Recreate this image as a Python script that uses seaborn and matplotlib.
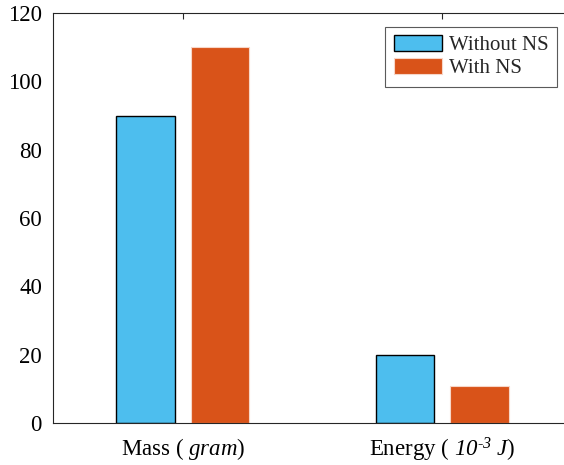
import numpy as np
import pandas as pd
import matplotlib
matplotlib.use('Agg')
import matplotlib.pyplot as plt
import seaborn as sns
from matplotlib.patches import Patch

# ===================== 数据 =====================
# \mathbf 映射为斜体，让数字也能斜体显示
categories = ['Mass ( $\\mathit{gram}$)',
              'Energy ( $\\mathbf{10}^{\\text{-}\\mathbf{3}}\\ \\mathit{J}$)']
without_ns = [90, 20]
with_ns = [110, 10.8]
series_names = ['Without NS', 'With NS']
colors = ['#4DBEEE', '#D95319']
y_ticks = [0, 20, 40, 60, 80, 100, 120]

df = pd.DataFrame({
    'cat': categories * 2,
    'value': without_ns + with_ns,
    'series': [series_names[0]] * 2 + [series_names[1]] * 2,
})

# ===================== 样式 =====================
sns.set_style('white')
plt.rcParams['font.family'] = ['Liberation Serif', 'DejaVu Serif']
plt.rcParams['mathtext.fontset'] = 'custom'
plt.rcParams['mathtext.rm'] = 'Liberation Serif'
plt.rcParams['mathtext.it'] = 'Liberation Serif:italic'
plt.rcParams['mathtext.bf'] = 'Liberation Serif:italic'
plt.rcParams['font.size'] = 16.5

fig = plt.figure(figsize=(5.64, 4.65), dpi=100)
ax = fig.add_axes([0.094, 0.0903, 0.920, 0.8817])

sns.barplot(data=df, x='cat', y='value', hue='series', hue_order=series_names,
            palette=colors, width=0.574, gap=0.21, saturation=1, legend=False, ax=ax)

# 边框颜色
for bar in ax.containers[0]:
    bar.set_edgecolor('black')
    bar.set_linewidth(1.0)
for bar in ax.containers[1]:
    bar.set_edgecolor('#f7d6c8')
    bar.set_linewidth(0.8)

ax.set_xlim(-0.5, 1.5)
ax.set_ylim(0, 120)
ax.set_yticks(y_ticks)
ax.set_xlabel('')
ax.set_ylabel('')
ax.tick_params(direction='in', length=4, width=0.8, colors='#262626',
               labelcolor='black', top=True, labelsize=16.5)
ax.tick_params(axis='x', pad=9)
ax.tick_params(axis='y', pad=8)
ax.spines['right'].set_visible(False)
for s in ax.spines.values():
    s.set_color('#262626')
    s.set_linewidth(0.8)

handles = [Patch(facecolor=colors[0], edgecolor='black', linewidth=1.0),
           Patch(facecolor=colors[1], edgecolor='#f7d6c8', linewidth=0.8)]
leg = ax.legend(handles, series_names, loc='upper right', bbox_to_anchor=(0.971, 0.966),
                borderaxespad=0, fancybox=False, framealpha=1, edgecolor='#5a5a5a',
                fontsize=15, handlelength=2.3, handleheight=0.75, handletextpad=0.35,
                labelspacing=0.15, borderpad=0.4)
leg.get_frame().set_linewidth(0.8)

fig.savefig('out.png', dpi=100)
